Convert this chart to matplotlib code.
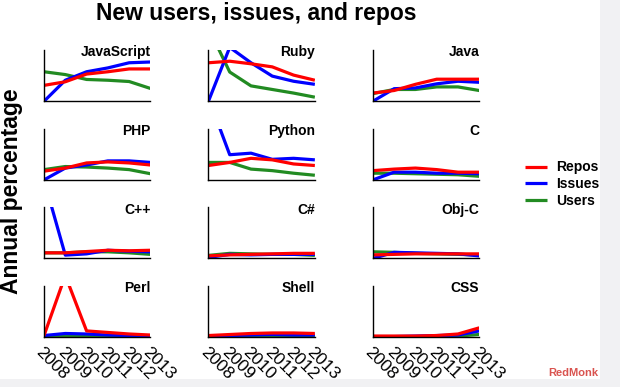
import matplotlib
matplotlib.use("Agg")
import matplotlib.pyplot as plt
from matplotlib.patches import Rectangle

plt.rcParams['font.family'] = ['Liberation Sans', 'DejaVu Sans']

years = [2008, 2009, 2010, 2011, 2012, 2013]
year_labels = ["2008", "2009", "2010", "2011", "2012", "2013"]
languages = ["JavaScript", "Ruby", "Java",
             "PHP", "Python", "C",
             "C++", "C#", "Obj-C",
             "Perl", "Shell", "CSS"]

repos = [
    [0.31, 0.38, 0.53, 0.575, 0.63, 0.63],   # JavaScript
    [0.75, 0.78, 0.73, 0.67, 0.51, 0.41],    # Ruby
    [0.16, 0.21, 0.33, 0.43, 0.43, 0.43],    # Java
    [0.17, 0.23, 0.33, 0.35, 0.33, 0.29],    # PHP
    [0.28, 0.34, 0.42, 0.39, 0.31, 0.28],    # Python
    [0.18, 0.21, 0.23, 0.20, 0.15, 0.15],    # C
    [0.11, 0.11, 0.135, 0.16, 0.15, 0.16],   # C++
    [0.05, 0.07, 0.08, 0.09, 0.10, 0.10],    # C#
    [0.07, 0.08, 0.09, 0.09, 0.09, 0.09],    # Obj-C
    [0.03, 1.20, 0.12, 0.09, 0.06, 0.04],    # Perl
    [0.03, 0.05, 0.07, 0.08, 0.08, 0.07],    # Shell
    [0.02, 0.02, 0.02, 0.03, 0.06, 0.18],    # CSS
]
issues = [
    [0.00, 0.41, 0.575, 0.65, 0.75, 0.765],
    [0.00, 1.05, 0.75, 0.49, 0.39, 0.33],
    [0.00, 0.245, 0.26, 0.34, 0.39, 0.37],
    [0.00, 0.23, 0.29, 0.37, 0.37, 0.34],
    [1.60, 0.49, 0.52, 0.40, 0.42, 0.39],
    [0.00, 0.15, 0.15, 0.13, 0.13, 0.12],
    [1.53, 0.065, 0.09, 0.16, 0.14, 0.13],
    [0.02, 0.08, 0.07, 0.08, 0.08, 0.08],
    [0.00, 0.12, 0.11, 0.10, 0.09, 0.05],
    [0.03, 0.07, 0.06, 0.04, 0.03, 0.02],
    [0.02, 0.03, 0.04, 0.05, 0.04, 0.04],
    [0.01, 0.01, 0.02, 0.03, 0.04, 0.12],
]
users = [
    [0.575, 0.52, 0.425, 0.41, 0.385, 0.25],
    [1.43, 0.57, 0.30, 0.23, 0.16, 0.08],
    [0.15, 0.23, 0.23, 0.28, 0.28, 0.21],
    [0.20, 0.26, 0.25, 0.23, 0.20, 0.12],
    [0.34, 0.34, 0.21, 0.18, 0.13, 0.09],
    [0.13, 0.13, 0.12, 0.11, 0.10, 0.07],
    [0.11, 0.11, 0.13, 0.13, 0.11, 0.08],
    [0.06, 0.10, 0.09, 0.08, 0.08, 0.06],
    [0.13, 0.12, 0.10, 0.09, 0.08, 0.07],
    [0.01, 0.02, 0.02, 0.01, 0.01, 0.01],
    [0.02, 0.03, 0.03, 0.03, 0.02, 0.02],
    [0.01, 0.01, 0.01, 0.01, 0.02, 0.05],
]

RED = "#ff0000"
BLUE = "#0000ff"
GREEN = "#228b22"

fig = plt.figure(figsize=(6.2, 3.87), dpi=100)
fig.patch.set_facecolor("white")

# light grey page border (right and bottom)
fig.add_artist(Rectangle((600/620, 0), 20/620, 1, transform=fig.transFigure,
                         facecolor="#f1f1f3", edgecolor="none", zorder=0))
fig.add_artist(Rectangle((0, 0), 1, 8/387, transform=fig.transFigure,
                         facecolor="#f1f1f3", edgecolor="none", zorder=0))

gs = fig.add_gridspec(4, 3, left=0.071, right=0.773, top=0.871, bottom=0.129,
                      wspace=0.545, hspace=0.53)

lw = 2.3
for i, lang in enumerate(languages):
    r, c = divmod(i, 3)
    ax = fig.add_subplot(gs[r, c])
    ax.set_facecolor("none")
    lu, = ax.plot(years, users[i], color=GREEN, lw=lw, solid_capstyle="butt")
    li, = ax.plot(years, issues[i], color=BLUE, lw=lw, solid_capstyle="butt")
    lr, = ax.plot(years, repos[i], color=RED, lw=lw, solid_capstyle="butt")
    ax.set_xlim(2008, 2013)
    ax.set_ylim(0, 1.0)
    for s in ["top", "right"]:
        ax.spines[s].set_visible(False)
    for s in ["left", "bottom"]:
        ax.spines[s].set_linewidth(1.0)
        ax.spines[s].set_color("black")
    ax.set_yticks([])
    ax.tick_params(axis="x", length=0)
    if r == 3:
        ax.set_xticks(years)
        ax.set_xticklabels(year_labels, rotation=-45, ha="left", va="top",
                           rotation_mode="anchor", fontsize=12.5)
        ax.tick_params(axis="x", pad=5)
    else:
        ax.set_xticks([])
    ax.text(1.0, 0.95, lang, transform=ax.transAxes, ha="right", va="center",
            fontsize=10, fontweight="bold")
    if i == 0:
        handles = [lr, li, lu]

fig.legend(handles, ["Repos", "Issues", "Users"], loc="center left",
           bbox_to_anchor=(0.846, 0.524), frameon=False,
           prop={"weight": "bold", "size": 10}, handlelength=1.6,
           handletextpad=0.65, labelspacing=0.2, borderpad=0, borderaxespad=0)

fig.text(0.413, 0.965, "New users, issues, and repos", ha="center",
         va="center", fontsize=16.5, fontweight="bold")
fig.text(0.018, 0.505, "Annual percentage", rotation=90, ha="center",
         va="center", fontsize=16.5, fontweight="bold")

fig.text(0.965, 0.035, "RedMonk", ha="right", va="center", fontsize=8,
         fontweight="bold", color="#d9534f")

fig.savefig("out.png", dpi=100, facecolor=fig.get_facecolor())
